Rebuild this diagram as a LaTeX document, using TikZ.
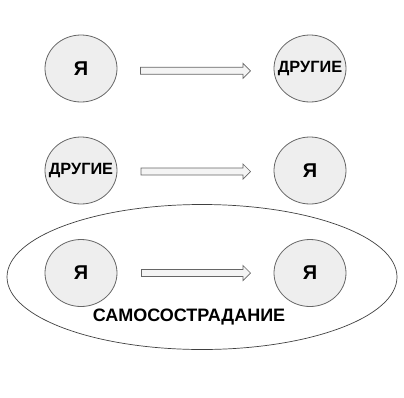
\documentclass[tikz,border=0pt]{standalone}
\usepackage{fontspec}
\setmainfont{Liberation Sans}
\usetikzlibrary{shapes.geometric}
\definecolor{circfill}{HTML}{EEEEEE}
\definecolor{circline}{HTML}{666666}
\definecolor{arrfill}{HTML}{F4F4F4}
\tikzset{
  person/.style={ellipse, draw=circline, fill=circfill, line width=0.8pt,
    minimum width=72pt, minimum height=67pt, inner sep=0pt},
  big/.style={font=\bfseries\fontsize{20}{20}\selectfont, inner sep=0pt},
  small/.style={font=\bfseries\fontsize{16.3}{16}\selectfont, inner sep=0pt},
  blockarr/.style={draw=circline, fill=arrfill, line width=0.7pt, line join=miter},
  oval/.style={ellipse, draw=black!75, line width=0.7pt, minimum width=390pt, minimum height=145pt, inner sep=0pt},
  caption/.style={font=\bfseries\fontsize{18}{18}\selectfont}
}
\newcommand{\blockarrow}[3]{%
  \draw[blockarr] (#1,#3-3.5) -- (#2-7.5,#3-3.5) -- (#2-7.5,#3-7.5) -- (#2,#3)
    -- (#2-7.5,#3+7.5) -- (#2-7.5,#3+3.5) -- (#1,#3+3.5) -- cycle;}
\begin{document}
\begin{tikzpicture}[x=1pt,y=-1pt]
\useasboundingbox (0,0) rectangle (404,397);
\node[oval] (group) at (202,277) {};
\node[person] (a1) at (81,68.5) {};
\node[big] (a1t) at (a1) {Я};
\node[person] (b1) at (310,68.5) {};
\node[small] (b1t) at (b1) {ДРУГИЕ};
\node[person] (a2) at (81,170.5) {};
\node[small] (a2t) at (a2) {ДРУГИЕ};
\node[person] (b2) at (310,170.5) {};
\node[big] (b2t) at (b2) {Я};
\node[person] (a3) at (81,273) {};
\node[big] (a3t) at (a3) {Я};
\node[person] (b3) at (310,273) {};
\node[big] (b3t) at (b3) {Я};
\node[caption] (lbl) at (189,317.5) {САМОСОСТРАДАНИЕ};
\blockarrow{140.5}{250.5}{70.8}
\blockarrow{141}{250.5}{171.5}
\blockarrow{141.5}{250.5}{273}
\end{tikzpicture}
\end{document}
